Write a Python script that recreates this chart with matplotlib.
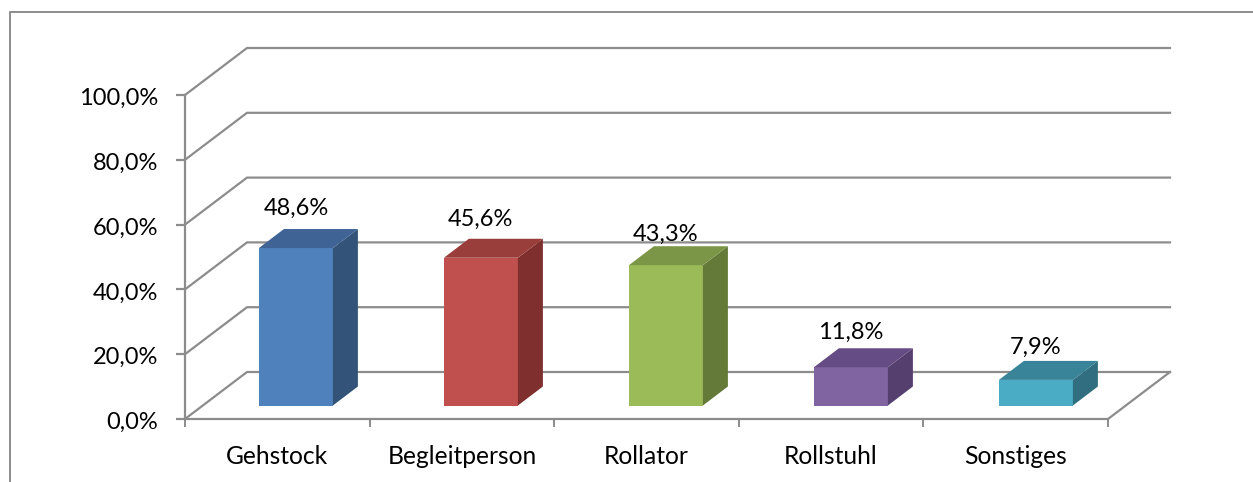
import matplotlib
matplotlib.use("Agg")
import matplotlib.pyplot as plt
from matplotlib.patches import Polygon
from matplotlib.ticker import FixedLocator, NullFormatter
from matplotlib.transforms import ScaledTranslation

categories = ["Gehstock", "Begleitperson", "Rollator", "Rollstuhl", "Sonstiges"]
values = [48.6, 45.6, 43.3, 11.8, 7.9]
y_ticks = [0, 20, 40, 60, 80, 100]
y_tick_labels = ["0,0%", "20,0%", "40,0%", "60,0%", "80,0%", "100,0%"]

front = ["#4F81BD", "#C0504D", "#9BBB59", "#8064A2", "#4BACC6"]
side = ["#335478", "#7F2F2D", "#647A39", "#553F6E", "#316F80"]
top = ["#3E6394", "#9A3E3C", "#7C9647", "#664C84", "#3A8499"]
label_gap_px = [21, 19, 12, 16, 14]

W, H = 1253, 482
L, R, T, B = 185, 1108, 95, 419
GREY = "#8C8C8C"
FONT = "Lato"

fig = plt.figure(figsize=(W / 100, H / 100), dpi=100)
fig.patch.set_facecolor("white")
ax = fig.add_axes([L / W, 1 - B / H, (R - L) / W, (B - T) / H])
ax.set_xlim(0, len(categories))
ax.set_ylim(0, 100)
ax.patch.set_visible(False)
px = (R - L) / len(categories)   # pixels per category
py = (B - T) / 100               # pixels per percent
dep_x, dep_y = 62 / px, 47 / py  # floor depth
bar_w = 74 / px
bar_dx, bar_dy = 25 / px, 19 / py
nudge_x, nudge_y = 18.6 / px, 13.5 / py
slot = 185 / px

for s in ("top", "right"):
    ax.spines[s].set_visible(False)
for s in ("left", "bottom"):
    ax.spines[s].set_color(GREY)
    ax.spines[s].set_linewidth(1.6)

ax.set_yticks(y_ticks)
ax.set_yticklabels(y_tick_labels, fontsize=17, family=FONT, color="black", va="center_baseline")
ax.tick_params(axis="y", length=6.5, width=1.6, color=GREY, pad=13)
shift_down = ScaledTranslation(0, -1.5 / 100, fig.dpi_scale_trans)
for lab in ax.get_yticklabels():
    lab.set_transform(lab.get_transform() + shift_down)
ax.set_xticks(range(len(categories) + 1))
ax.xaxis.set_major_formatter(NullFormatter())
ax.xaxis.set_minor_locator(FixedLocator([i + 0.5 for i in range(len(categories))]))
ax.set_xticks([i + 0.5 for i in range(len(categories))], categories, minor=True,
              fontsize=17.7, family=FONT, color="black")
ax.tick_params(axis="x", which="major", length=6, width=1.4, color=GREY)
ax.tick_params(axis="x", which="minor", length=0, pad=18.5)

# back wall gridlines and depth lines
n = len(categories)
for v in y_ticks:
    ax.plot([0, dep_x, n + dep_x], [v, v + dep_y, v + dep_y], color=GREY, lw=1.6,
            clip_on=False, zorder=1, solid_joinstyle="miter")
# right floor edge
ax.plot([n, n + dep_x], [0, dep_y], color=GREY, lw=1.6, clip_on=False, zorder=1)

for i, v in enumerate(values):
    x0 = i * slot + 0.5 - bar_w / 2 + nudge_x
    x1 = x0 + bar_w
    y0 = nudge_y
    y1 = y0 + v
    ax.add_patch(Polygon([(x0, y0), (x1, y0), (x1, y1), (x0, y1)], fc=front[i], ec="none",
                         clip_on=False, zorder=3))
    ax.add_patch(Polygon([(x1, y0), (x1 + bar_dx, y0 + bar_dy), (x1 + bar_dx, y1 + bar_dy), (x1, y1)],
                         fc=side[i], ec="none", clip_on=False, zorder=3))
    ax.add_patch(Polygon([(x0, y1), (x1, y1), (x1 + bar_dx, y1 + bar_dy), (x0 + bar_dx, y1 + bar_dy)],
                         fc=top[i], ec="none", clip_on=False, zorder=3))
    ax.text((x0 + x1) / 2, y1 + bar_dy + label_gap_px[i] / py, f"{v:.1f}%".replace(".", ","),
            ha="center", va="center", fontsize=17, family=FONT, color="black", zorder=4)

# outer chart frame (left and top edges only)
fig.add_artist(plt.Line2D([10 / W, 10 / W, 1], [0, 1 - 12 / H, 1 - 12 / H], color=GREY, lw=1.4))

fig.savefig("out.png", dpi=100)
